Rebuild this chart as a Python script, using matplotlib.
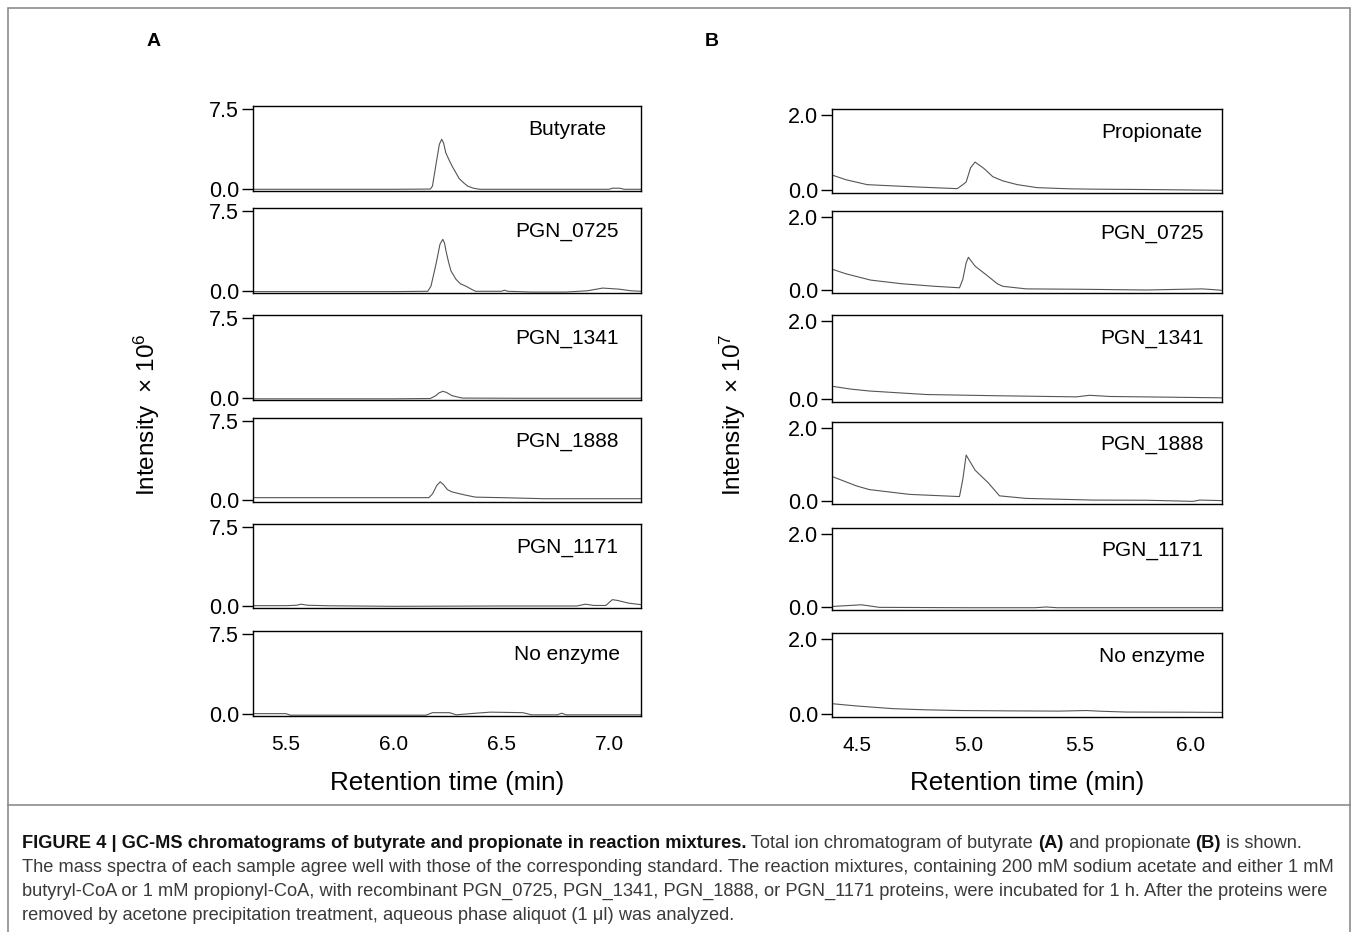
import matplotlib
matplotlib.use("Agg")
import matplotlib.pyplot as plt
from matplotlib.patches import Rectangle
from matplotlib.lines import Line2D

plt.rcParams['font.family'] = ['Liberation Sans', 'DejaVu Sans']
plt.rcParams['mathtext.fontset'] = 'custom'
plt.rcParams['mathtext.rm'] = 'Liberation Sans'
plt.rcParams['mathtext.it'] = 'Liberation Sans:italic'

# ---- data: panel A (butyrate, intensity x 10^6) ----
labels_a = ["Butyrate", "PGN_0725", "PGN_1341", "PGN_1888", "PGN_1171", "No enzyme"]

butyrate_t = [5.35, 6.0, 6.17, 6.18, 6.197, 6.212, 6.223, 6.232, 6.242, 6.258, 6.273, 6.29,
              6.304, 6.325, 6.343, 6.37, 6.40, 6.8, 7.0, 7.015, 7.05, 7.07, 7.15]
butyrate_i = [0.0, 0.0, 0.02, 0.3, 2.4, 4.2, 4.67, 4.3, 3.4, 2.7, 2.1, 1.5,
              1.0, 0.6, 0.3, 0.1, 0.0, 0.0, 0.0, 0.1, 0.1, 0.0, 0.0]

a0725_t = [5.35, 6.0, 6.158, 6.173, 6.196, 6.215, 6.228, 6.236, 6.243, 6.255, 6.266, 6.29, 6.31,
           6.336, 6.36, 6.38, 6.5, 6.514, 6.53, 6.64, 6.80, 6.9, 6.97, 7.046, 7.1, 7.15]
a0725_i = [-0.03, -0.03, 0.0, 0.47, 2.5, 4.4, 4.85, 4.5, 3.75, 2.7, 1.9, 1.1, 0.7,
           0.47, 0.2, 0.0, 0.0, 0.1, 0.0, -0.07, -0.07, 0.05, 0.3, 0.2, 0.05, 0.0]

a1341_t = [5.35, 6.0, 6.17, 6.196, 6.21, 6.228, 6.245, 6.27, 6.30, 6.32, 6.6, 7.0, 7.15]
a1341_i = [-0.05, -0.05, -0.02, 0.25, 0.5, 0.65, 0.55, 0.25, 0.1, 0.02, 0.0, 0.0, 0.0]

a1888_t = [5.35, 6.0, 6.163, 6.18, 6.2, 6.216, 6.23, 6.25, 6.27, 6.29, 6.31, 6.336, 6.36, 6.38,
           6.5, 6.7, 6.9, 7.15]
a1888_i = [0.25, 0.25, 0.25, 0.6, 1.4, 1.75, 1.5, 1.0, 0.8, 0.7, 0.6, 0.48, 0.38, 0.3,
           0.25, 0.15, 0.15, 0.15]

a1171_t = [5.35, 5.5, 5.55, 5.57, 5.6, 5.7, 6.0, 6.5, 6.85, 6.89, 6.93, 6.985, 7.015, 7.04, 7.09, 7.15]
a1171_i = [0.06, 0.06, 0.1, 0.2, 0.1, 0.05, 0.0, 0.03, 0.03, 0.2, 0.08, 0.08, 0.63, 0.55, 0.3, 0.15]

anoenz_t = [5.35, 5.5, 5.52, 6.15, 6.18, 6.26, 6.29, 6.38, 6.45, 6.6, 6.64, 6.76, 6.78, 6.8, 7.15]
anoenz_i = [0.06, 0.06, -0.08, -0.08, 0.15, 0.15, -0.05, 0.1, 0.2, 0.15, -0.05, -0.05, 0.1, -0.05, -0.05]

traces_a = [(butyrate_t, butyrate_i), (a0725_t, a0725_i), (a1341_t, a1341_i),
            (a1888_t, a1888_i), (a1171_t, a1171_i), (anoenz_t, anoenz_i)]

# ---- data: panel B (propionate, intensity x 10^7) ----
labels_b = ["Propionate", "PGN_0725", "PGN_1341", "PGN_1888", "PGN_1171", "No enzyme"]

propionate_t = [4.39, 4.45, 4.545, 4.65, 4.8, 4.95, 4.975, 4.99, 5.01, 5.03, 5.07, 5.11,
                5.155, 5.22, 5.31, 5.45, 5.56, 5.8, 6.14]
propionate_i = [0.4, 0.28, 0.15, 0.12, 0.08, 0.044, 0.15, 0.22, 0.6, 0.75, 0.58, 0.36,
                0.25, 0.15, 0.07, 0.04, 0.03, 0.02, 0.0]

b0725_t = [4.39, 4.45, 4.56, 4.7, 4.85, 4.96, 4.975, 4.99, 5.0, 5.03, 5.085, 5.13, 5.155,
           5.26, 5.5, 5.8, 6.05, 6.1, 6.14]
b0725_i = [0.57, 0.45, 0.28, 0.18, 0.11, 0.07, 0.3, 0.75, 0.9, 0.66, 0.4, 0.18, 0.11,
           0.04, 0.03, 0.01, 0.04, 0.02, 0.0]

b1341_t = [4.39, 4.47, 4.555, 4.81, 5.11, 5.485, 5.545, 5.635, 6.14]
b1341_i = [0.33, 0.26, 0.21, 0.12, 0.09, 0.06, 0.1, 0.07, 0.035]

b1888_t = [4.39, 4.497, 4.555, 4.735, 4.96, 4.975, 4.99, 5.03, 5.09, 5.14, 5.26, 5.56, 5.8,
           6.01, 6.04, 6.14]
b1888_i = [0.67, 0.42, 0.32, 0.19, 0.13, 0.6, 1.26, 0.85, 0.5, 0.15, 0.08, 0.035, 0.03,
           0.0, 0.035, 0.02]

b1171_t = [4.39, 4.52, 4.6, 5.0, 5.3, 5.35, 5.4, 6.14]
b1171_i = [0.025, 0.07, 0.0, -0.01, -0.01, 0.01, -0.01, -0.01]

bnoenz_t = [4.39, 4.5, 4.66, 4.8, 4.96, 5.2, 5.41, 5.53, 5.6, 5.71, 6.0, 6.14]
bnoenz_i = [0.28, 0.22, 0.15, 0.12, 0.1, 0.09, 0.085, 0.1, 0.08, 0.06, 0.055, 0.05]

traces_b = [(propionate_t, propionate_i), (b0725_t, b0725_i), (b1341_t, b1341_i),
            (b1888_t, b1888_i), (b1171_t, b1171_i), (bnoenz_t, bnoenz_i)]

xticks_a = [5.5, 6.0, 6.5, 7.0]
xticks_b = [4.5, 5.0, 5.5, 6.0]

# ---- layout (pixels of the 1357x932 figure) ----
W, H = 1357, 932
rows_a = [(106, 191), (208, 293), (315, 400), (418, 502), (524, 608), (631, 716)]
rows_b = [(109, 193), (211, 293), (315, 402), (422, 504), (528, 610), (633, 717)]

fig = plt.figure(figsize=(W / 100, H / 100), dpi=100)


def draw_panel(traces, labels, rows, x0, x1, xlim, ylim, yticks, xticks, lab_x):
    axes = []
    for k, ((t, v), lab, (top, bot)) in enumerate(zip(traces, labels, rows)):
        ax = fig.add_axes([x0 / W, 1 - bot / H, (x1 - x0) / W, (bot - top) / H])
        ax.plot(t, v, color='#555555', lw=0.8)
        ax.set_xlim(*xlim)
        ax.set_ylim(*ylim)
        ax.set_yticks(yticks)
        ax.set_yticklabels(["%.1f" % y for y in yticks], fontsize=15.5)
        ax.tick_params(axis='y', length=8, width=1.0, pad=2)
        for s in ax.spines.values():
            s.set_linewidth(1.0)
        ax.text(lab_x, 0.725, lab, transform=ax.transAxes, ha='center', va='center', fontsize=15)
        if k == len(rows) - 1:
            ax.set_xticks(xticks)
            ax.set_xticklabels(["%.1f" % x for x in xticks], fontsize=15)
            ax.tick_params(axis='x', length=0, pad=14)
        else:
            ax.set_xticks([])
        axes.append(ax)
    return axes


axes_a = draw_panel(traces_a, labels_a, rows_a, 253, 641, (5.347, 7.148), (-0.16, 7.78),
                    [0.0, 7.5], xticks_a, 0.81)
axes_b = draw_panel(traces_b, labels_b, rows_b, 832, 1222, (4.387, 6.14), (-0.072, 2.16),
                    [0.0, 2.0], xticks_b, 0.82)

axes_a[-1].set_xlabel("Retention time (min)", fontsize=18.7, labelpad=12)
axes_b[-1].set_xlabel("Retention time (min)", fontsize=18.7, labelpad=11)

fig.text(147 / W, 1 - 415 / H, r"Intensity  $\times$ 10$^{6}$", rotation=90, ha='center', va='center',
         fontsize=17.5)
fig.text(733 / W, 1 - 415 / H, r"Intensity  $\times$ 10$^{7}$", rotation=90, ha='center', va='center',
         fontsize=17.5)

fig.text(154 / W, 1 - 41 / H, "A", fontsize=14, fontweight='bold', ha='center', va='center')
fig.text(712 / W, 1 - 41 / H, "B", fontsize=14, fontweight='bold', ha='center', va='center')

# frame around figure and separator above the caption
fig.add_artist(Rectangle((8 / W, -0.05), (1350 - 8) / W, 1.05 - 8 / H, transform=fig.transFigure,
                         fill=False, edgecolor='#8c8c8c', lw=1.2))
fig.add_artist(Line2D([8 / W, 1350 / W], [1 - 805 / H, 1 - 805 / H], transform=fig.transFigure,
                      color='#8c8c8c', lw=1.2))

# ---- caption ----
cap_lines = [
    [("FIGURE 4 | GC-MS chromatograms of butyrate and propionate in reaction mixtures.", 'bold'),
     (" Total ion chromatogram of butyrate ", 'normal'), ("(A)", 'bold'),
     (" and propionate ", 'normal'), ("(B)", 'bold'), (" is shown.", 'normal')],
    [("The mass spectra of each sample agree well with those of the corresponding standard. "
      "The reaction mixtures, containing 200 mM sodium acetate and either 1 mM", 'normal')],
    [("butyryl-CoA or 1 mM propionyl-CoA, with recombinant PGN_0725, PGN_1341, PGN_1888, "
      "or PGN_1171 proteins, were incubated for 1 h. After the proteins were", 'normal')],
    [("removed by acetone precipitation treatment, aqueous phase aliquot (1 \u03bcl) was analyzed.", 'normal')],
]
cap_y = [843, 867, 891, 915]

renderer = fig.canvas.get_renderer()
# pick a font size so the second line spans the same width as in the figure
probe = fig.text(0, 0, cap_lines[1][0][0], fontsize=12)
w = probe.get_window_extent(renderer).width
probe.remove()
cap_fs = 12 * 1316 / w

for line, yy in zip(cap_lines, cap_y):
    x = 22
    for txt, wt in line:
        t = fig.text(x / W, 1 - yy / H, txt, fontsize=cap_fs, fontweight=wt, ha='left', va='center',
                     color='#111111' if wt == 'bold' else '#3a3a3a')
        x += t.get_window_extent(renderer).width

fig.savefig("out.png", dpi=100)
